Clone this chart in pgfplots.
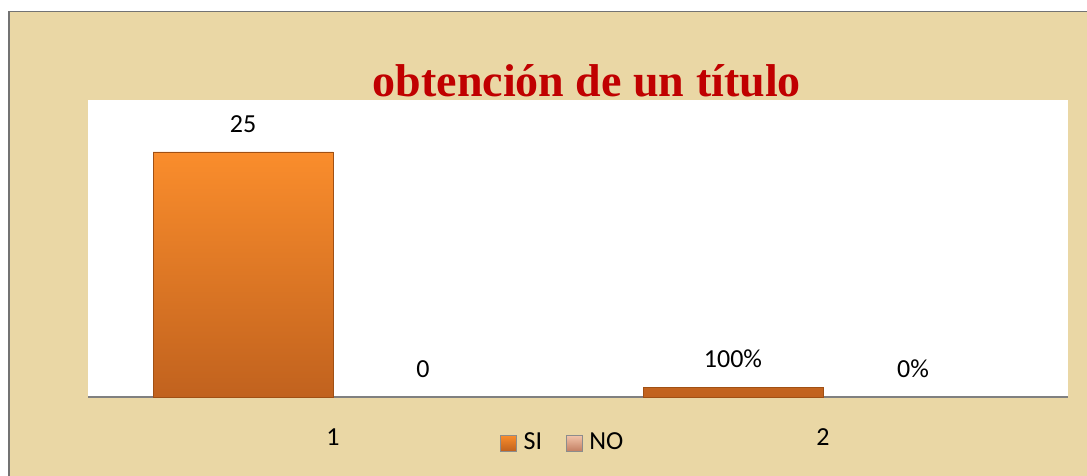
\documentclass[border=0pt]{standalone}
\usepackage{fontspec}
\setmainfont{Carlito}
\newfontfamily\titlefont{Liberation Serif}
\usepackage{pgfplots}
\pgfplotsset{compat=1.18}
\definecolor{parch}{RGB}{234,215,165}
\definecolor{siTop}{RGB}{250,141,44}
\definecolor{siBot}{RGB}{193,98,30}
\definecolor{siEdge}{RGB}{160,80,20}
\definecolor{noTop}{RGB}{242,196,170}
\definecolor{noBot}{RGB}{196,128,100}
\definecolor{titred}{RGB}{192,0,0}

\begin{document}
\begin{tikzpicture}
\useasboundingbox (0,0) rectangle (543.5pt,-238pt);
\fill[white] (0,0) rectangle (543.5pt,-238pt);
\filldraw[fill=parch, draw=gray!90!black, line width=0.7pt] (4.5pt,-5.8pt) rectangle (548pt,-244pt);
\begin{axis}[
  at={(44pt,-198.5pt)}, anchor=south west,
  width=490pt, height=148.5pt, scale only axis,
  axis background/.style={fill=white},
  ybar=0pt, bar width=90pt,
  xmin=0.5, xmax=2.5, ymin=0, ymax=30.3,
  axis x line*=bottom, axis y line=none,
  axis line style={draw=gray, line width=1.2pt},
  xtick={1,2}, xticklabels={1,2}, major tick length=0pt,
  ytick=\empty,
  xticklabel style={anchor=base, yshift=-24pt, font=\fontsize{13}{15}\selectfont},
  point meta=explicit symbolic,
  nodes near coords,
  every node near coord/.append style={anchor=base, yshift=9.75pt, font=\fontsize{13}{15}\selectfont, text=black},
  title={\titlefont\bfseries obtención de un título},
  title style={at={(axis description cs:0.509,1.0101)}, anchor=base, yshift=-5.5pt,
    font=\fontsize{23}{26}\selectfont, text=titred},
  legend style={at={(axis description cs:0.4855,-0.155)}, anchor=center,
    draw=none, fill=none, legend columns=2,
    font=\fontsize{13}{15}\selectfont,
    /tikz/every odd column/.append style={column sep=1.5pt},
    /tikz/every even column/.append style={column sep=10pt}},
  legend image code/.code={\fill[#1] (0pt,-3.9pt) rectangle (7.8pt,3.9pt);
    \draw[black!45, line width=0.3pt] (0pt,-3.9pt) rectangle (7.8pt,3.9pt);},
]
\addplot[draw=siEdge, line width=0.4pt, top color=siTop, bottom color=siBot]
  coordinates {(1,25) [25] (2,1) [100\%]};
\addplot[draw=none, top color=noTop, bottom color=noBot]
  coordinates {(1,0) [0] (2,0) [0\%]};
\legend{SI,NO}
\end{axis}
\end{tikzpicture}
\end{document}
